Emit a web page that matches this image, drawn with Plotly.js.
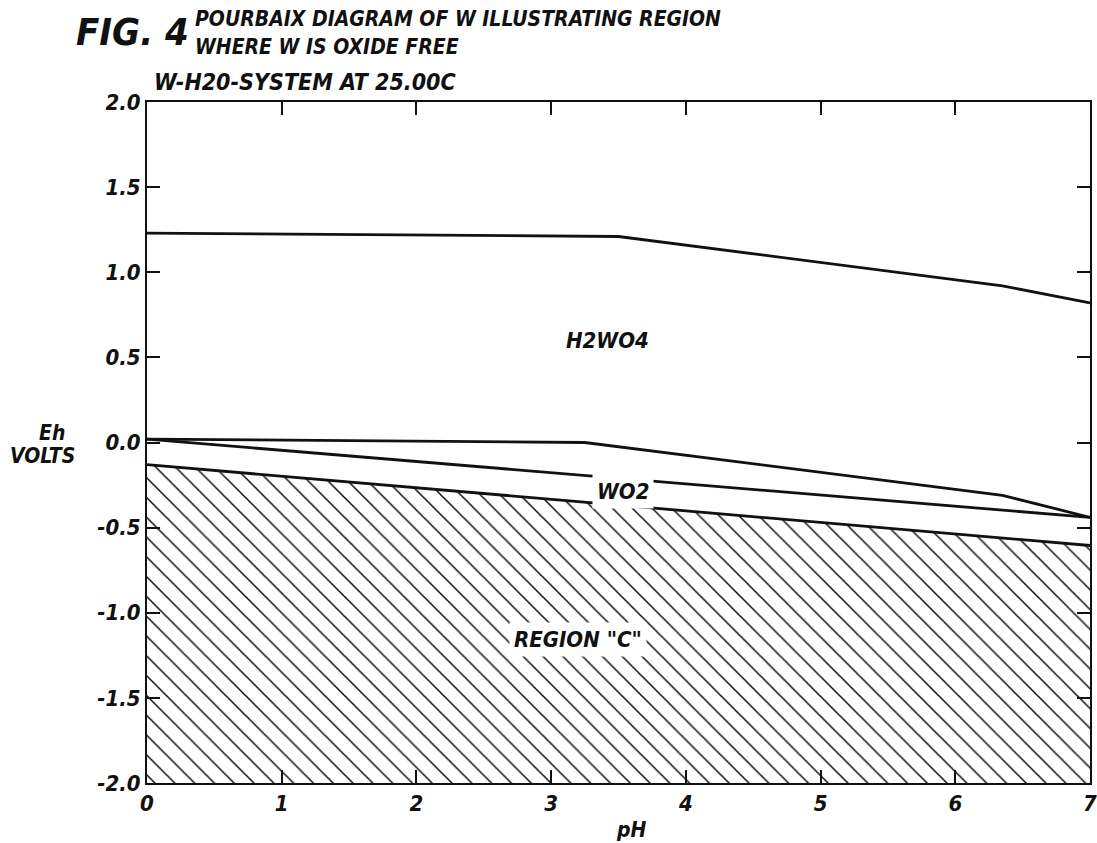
<!DOCTYPE html>
<html>
<head>
<meta charset="utf-8">
<script src="https://cdn.plot.ly/plotly-3.0.1.min.js"></script>
<style>html,body{margin:0;padding:0;background:#fff;}#chart{width:1097px;height:843px;}</style>
</head>
<body>
<div id="chart"></div>
<script>
// Boundary lines (pH, Eh volts)
const phO2 = [0, 3.5, 6.35, 7];
const ehO2 = [1.23, 1.21, 0.92, 0.82];

const phUpperWO2 = [0, 3.25, 6.35, 7];
const ehUpperWO2 = [0.02, 0.0, -0.31, -0.44];

const phLowerWO2 = [0, 7];
const ehLowerWO2 = [0.02, -0.44];

const phRegionC = [0, 7];
const ehRegionC = [-0.13, -0.605];

const ehBottom = -2.0;

const xTicks = [0, 1, 2, 3, 4, 5, 6, 7];
const xTickText = ['0', '1', '2', '3', '4', '5', '6', '7'];
const yTicks = [2.0, 1.5, 1.0, 0.5, 0.0, -0.5, -1.0, -1.5, -2.0];
const yTickText = ['2.0', '1.5', '1.0', '0.5', '0.0', '-0.5', '-1.0', '-1.5', '-2.0'];

const labels = [
  {text: 'H2WO4', ph: 3.42, eh: 0.60},
  {text: 'WO2', ph: 3.53, eh: -0.29},
  {text: 'REGION "C"', ph: 3.2, eh: -1.16}
];

const FONT = '"DejaVu Sans Condensed", "DejaVu Sans", sans-serif';
const lineStyle = {color: '#111', width: 2.8};

// hatched region polygon: boundary then down to bottom
const hatchX = phRegionC.concat([phRegionC[phRegionC.length - 1], phRegionC[0]]);
const hatchY = ehRegionC.concat([ehBottom, ehBottom]);

const traces = [
  {x: hatchX, y: hatchY, type: 'scatter', mode: 'lines', fill: 'toself',
   fillcolor: 'white', line: {width: 0},
   fillpattern: {shape: '\\', size: 14, solidity: 0.11, fgcolor: '#111', bgcolor: 'white'},
   hoverinfo: 'skip'},
  {x: phO2, y: ehO2, type: 'scatter', mode: 'lines', line: lineStyle},
  {x: phUpperWO2, y: ehUpperWO2, type: 'scatter', mode: 'lines', line: lineStyle},
  {x: phLowerWO2, y: ehLowerWO2, type: 'scatter', mode: 'lines', line: lineStyle},
  {x: phRegionC, y: ehRegionC, type: 'scatter', mode: 'lines', line: lineStyle}
];

const annFont = (size) => ({family: FONT, size: size, color: '#111', weight: 'bold', style: 'italic'});

const annotations = labels.map(l => ({
  x: l.ph, y: l.eh, xref: 'x', yref: 'y', text: l.text, showarrow: false,
  font: annFont(22), bgcolor: 'white', borderpad: 4
}));

annotations.push(
  {xref: 'paper', yref: 'paper', x: -0.0774, y: 1.103, xanchor: 'left', yanchor: 'middle',
   text: 'FIG. 4', showarrow: false, font: annFont(38)},
  {xref: 'paper', yref: 'paper', x: 0.0488, y: 1.1219, xanchor: 'left', yanchor: 'middle',
   text: 'POURBAIX DIAGRAM OF W ILLUSTRATING REGION', showarrow: false, font: annFont(21)},
  {xref: 'paper', yref: 'paper', x: 0.0488, y: 1.0808, xanchor: 'left', yanchor: 'middle',
   text: 'WHERE W IS OXIDE FREE', showarrow: false, font: annFont(21)},
  {xref: 'paper', yref: 'paper', x: 0.0053, y: 1.029, xanchor: 'left', yanchor: 'middle',
   text: 'W-H20-SYSTEM AT 25.00C', showarrow: false, font: annFont(23)},
  {xref: 'paper', yref: 'paper', x: -0.1007, y: 0.514, xanchor: 'center', yanchor: 'middle',
   text: 'Eh', showarrow: false, font: annFont(21)},
  {xref: 'paper', yref: 'paper', x: -0.111, y: 0.480, xanchor: 'center', yanchor: 'middle',
   text: 'VOLTS', showarrow: false, font: annFont(21)},
  {xref: 'paper', yref: 'paper', x: 0.514, y: -0.069, xanchor: 'center', yanchor: 'middle',
   text: 'pH', showarrow: false, font: annFont(21)}
);

const axisCommon = {
  showgrid: false, zeroline: false, showline: true, linecolor: '#111', linewidth: 2,
  mirror: 'ticks', ticks: 'inside', ticklen: 13, tickwidth: 2, tickcolor: '#111',
  tickfont: annFont(22), ticklabeloverflow: 'allow'
};

const layout = {
  width: 1097, height: 843,
  margin: {l: 147, r: 7, t: 102, b: 60},
  paper_bgcolor: 'white', plot_bgcolor: 'white',
  showlegend: false,
  xaxis: Object.assign({}, axisCommon, {range: [0, 7], tickvals: xTicks, ticktext: xTickText}),
  yaxis: Object.assign({}, axisCommon, {range: [-2, 2], tickvals: yTicks, ticktext: yTickText}),
  annotations: annotations
};

Plotly.newPlot('chart', traces, layout, {displayModeBar: false, staticPlot: true});
</script>
</body>
</html>
